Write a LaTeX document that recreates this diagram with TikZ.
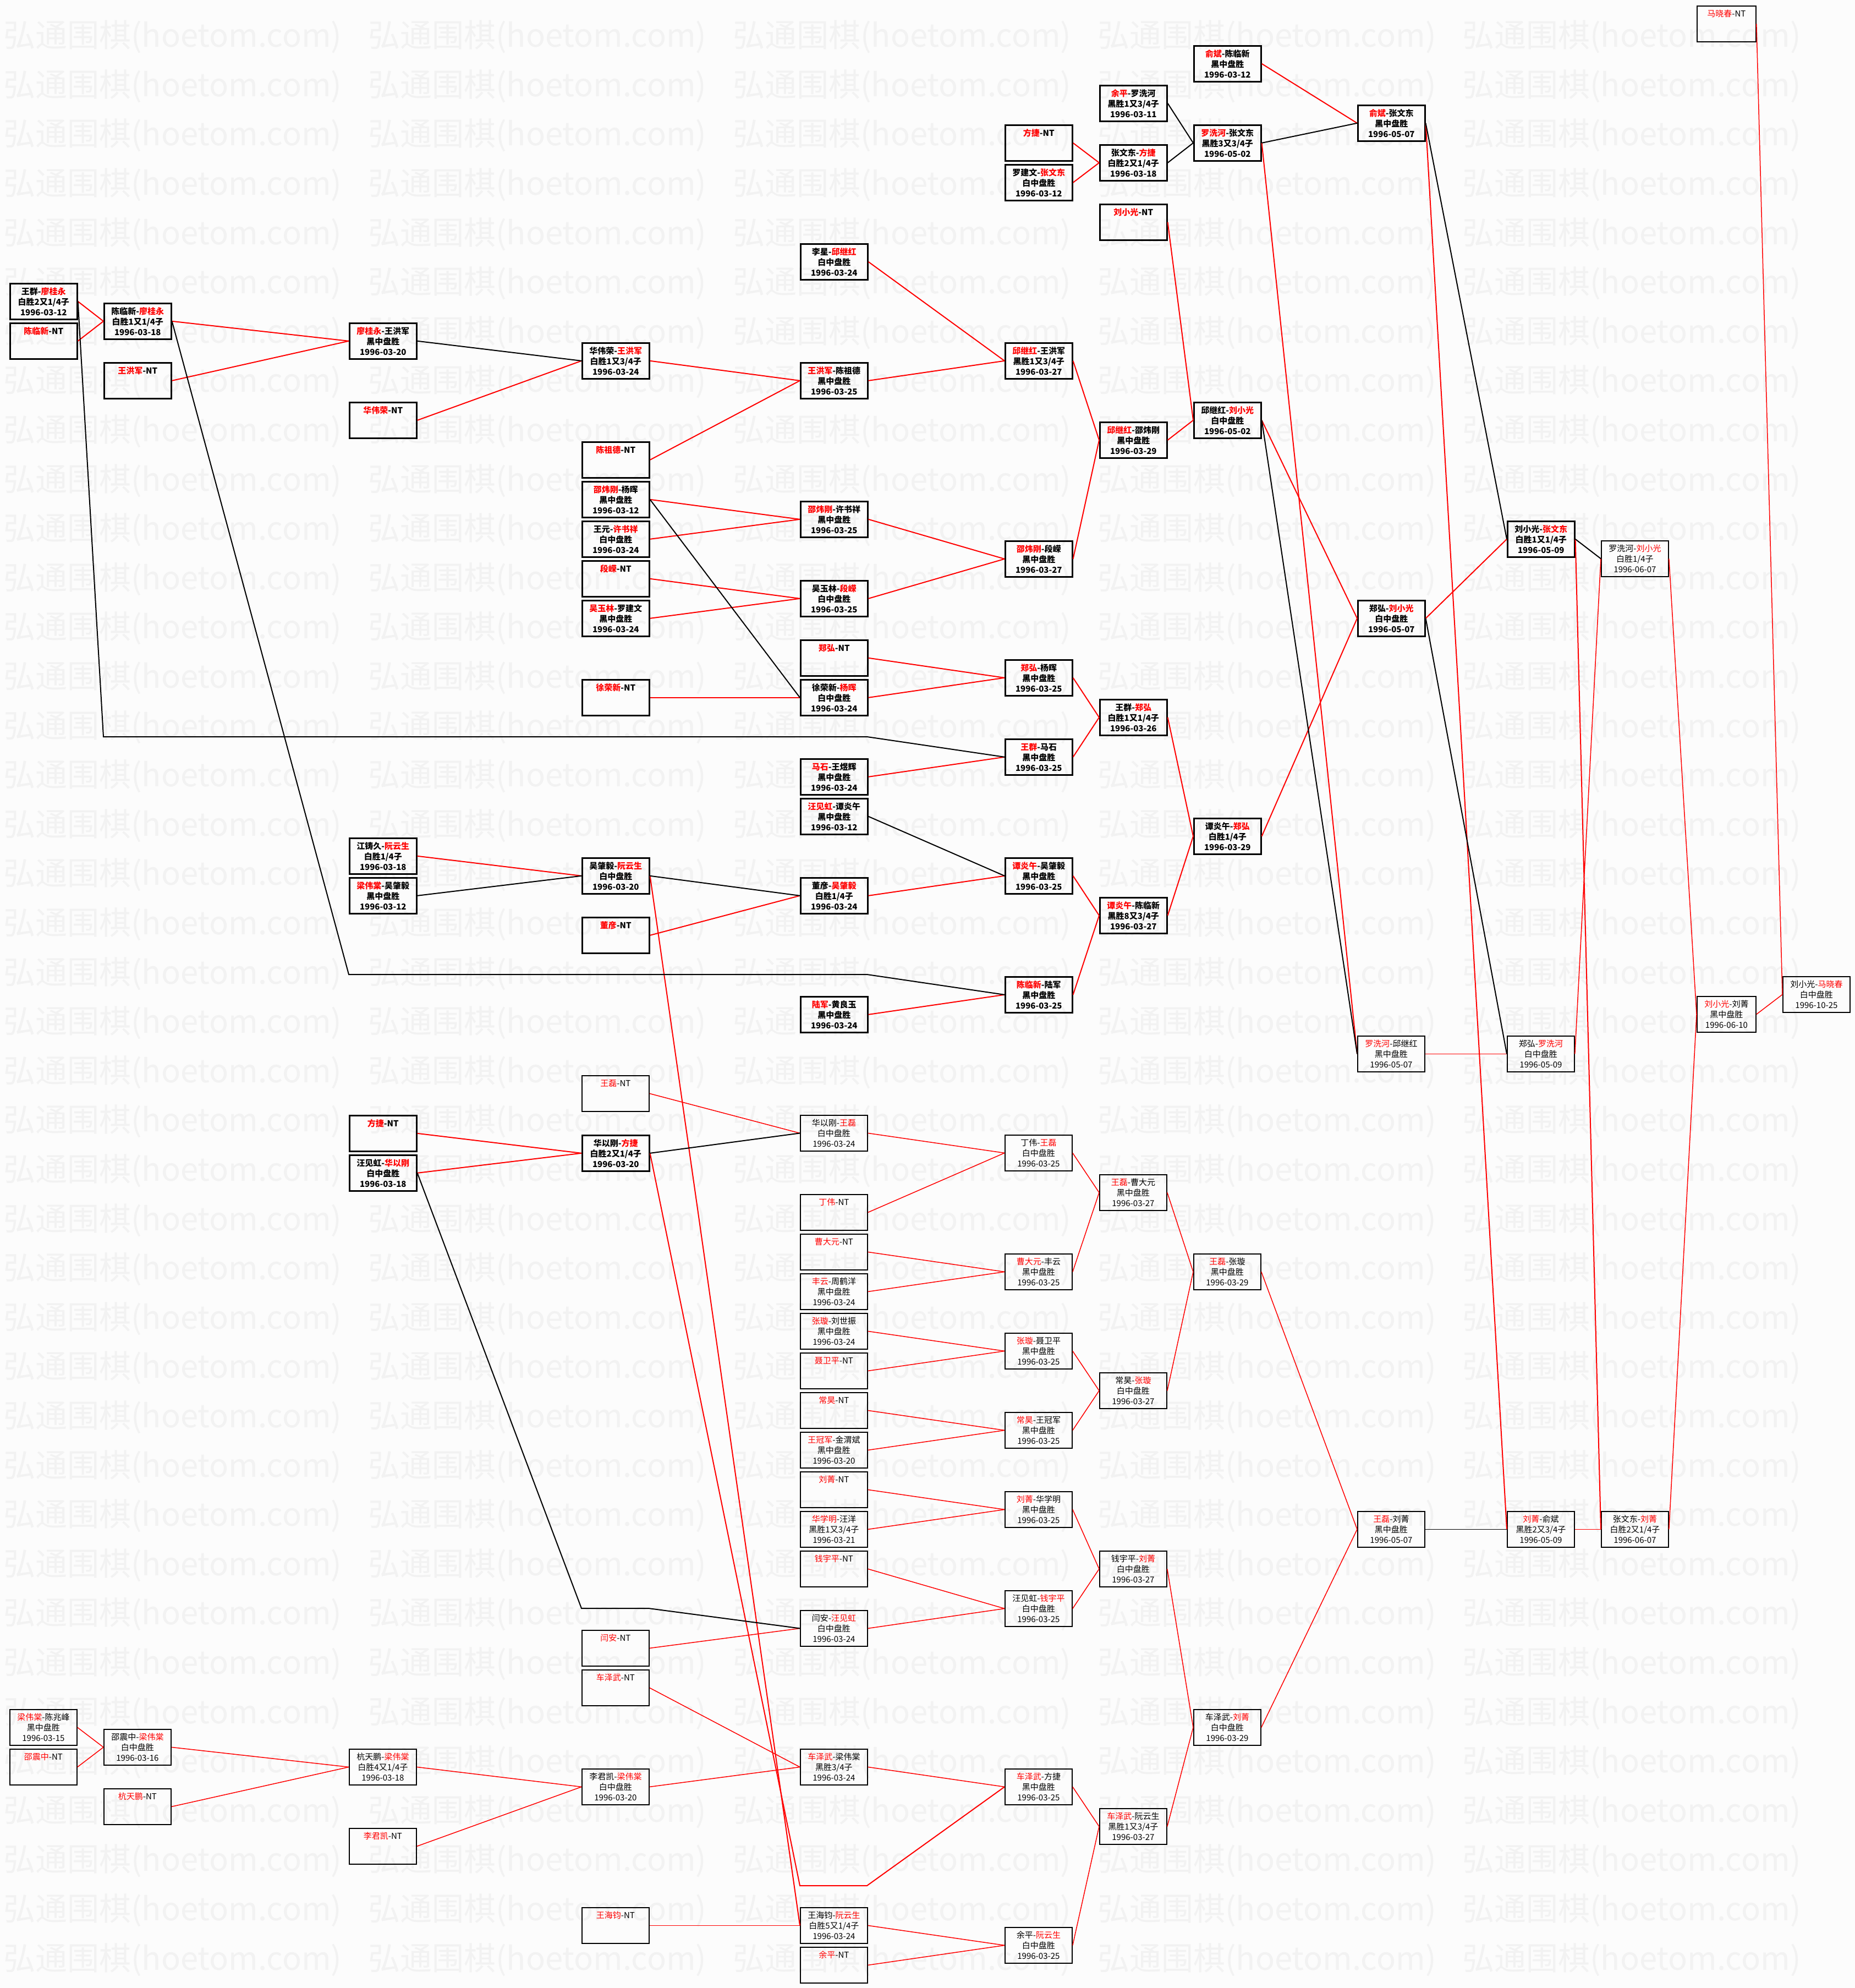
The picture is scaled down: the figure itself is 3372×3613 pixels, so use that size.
\documentclass[tikz,border=0pt]{standalone}
\usepackage{fontspec}
\setmainfont{Noto Sans CJK SC}
\usepackage{xcolor}

\begin{document}
\begin{tikzpicture}[x=1pt, y=-1pt,
        game/.style={draw, line width=2.6pt, anchor=north west, minimum width=122pt,
            minimum height=65pt, inner sep=0pt, align=center,
            font=\fontsize{15}{19}\selectfont\bfseries},
        lite/.style={game, line width=1.8pt, font=\fontsize{15}{19}\selectfont},
        narrow/.style={minimum width=107pt},
        win/.style={red, line width=2pt},
        lose/.style={black, line width=2pt},
        winl/.style={red, line width=1.5pt},
        losel/.style={black, line width=1.5pt},
        wmark/.style={black!5, anchor=west, inner sep=0pt, font=\fontsize{58}{58}\selectfont}]

    \useasboundingbox (0,0) rectangle (3372,3613);
    \fill[black!1] (0,0) rectangle (3372,3613);

    % watermark
    \begin{scope}
        \clip (0,0) rectangle (3372,3613);
        \foreach \r in {0,...,39} {
            \foreach \c in {0,...,4} {
                \node[wmark] (wm-\r-\c) at (6+663*\c, 67+89.6*\r) {弘通围棋(hoetom.com)};
            }
        }
    \end{scope}

    % column 0
    \node[game] (wq_lgy) at (17,514) {王群-{\color{red}廖桂永}\\白胜2又1/4子\\1996-03-12};
    \node[game] (clx_nt) at (17,586) {{\color{red}陈临新}-NT\\~\\~};
    \node[lite] (lwt_czf) at (17,3106) {{\color{red}梁伟棠}-陈兆峰\\黑中盘胜\\1996-03-15};
    \node[lite] (szz_nt) at (17,3178) {{\color{red}邵震中}-NT\\~\\~};

    % column 1
    \node[game] (clx_lgy) at (188,550) {陈临新-{\color{red}廖桂永}\\白胜1又1/4子\\1996-03-18};
    \node[game] (whj_nt) at (188,658) {{\color{red}王洪军}-NT\\~\\~};
    \node[lite] (szz_lwt) at (188,3142) {邵震中-{\color{red}梁伟棠}\\白中盘胜\\1996-03-16};
    \node[lite] (htp_nt) at (188,3250) {{\color{red}杭天鹏}-NT\\~\\~};

    % column 2
    \node[game] (lgy_whj) at (634,586) {{\color{red}廖桂永}-王洪军\\黑中盘胜\\1996-03-20};
    \node[game] (hwr_nt) at (634,730) {{\color{red}华伟荣}-NT\\~\\~};
    \node[game] (jzj_rys) at (634,1522) {江铸久-{\color{red}阮云生}\\白胜1/4子\\1996-03-18};
    \node[game] (lwt_wzy) at (634,1594) {{\color{red}梁伟棠}-吴肇毅\\黑中盘胜\\1996-03-12};
    \node[game] (fj_nt2) at (634,2026) {{\color{red}方捷}-NT\\~\\~};
    \node[game] (wjh_hyg) at (634,2098) {汪见虹-{\color{red}华以刚}\\白中盘胜\\1996-03-18};
    \node[lite] (htp_lwt) at (634,3178) {杭天鹏-{\color{red}梁伟棠}\\白胜4又1/4子\\1996-03-18};
    \node[lite] (ljk_nt) at (634,3322) {{\color{red}李君凯}-NT\\~\\~};

    % column 3
    \node[game] (hwr_whj) at (1057,622) {华伟荣-{\color{red}王洪军}\\白胜1又3/4子\\1996-03-24};
    \node[game] (czd_nt) at (1057,802) {{\color{red}陈祖德}-NT\\~\\~};
    \node[game] (swg_yh) at (1057,874) {{\color{red}邵炜刚}-杨晖\\黑中盘胜\\1996-03-12};
    \node[game] (wy_xsx) at (1057,946) {王元-{\color{red}许书祥}\\白中盘胜\\1996-03-24};
    \node[game] (dr_nt) at (1057,1018) {{\color{red}段嵘}-NT\\~\\~};
    \node[game] (wyl_ljw) at (1057,1090) {{\color{red}吴玉林}-罗建文\\黑中盘胜\\1996-03-24};
    \node[game] (xrx_nt) at (1057,1234) {{\color{red}徐荣新}-NT\\~\\~};
    \node[game] (wzy_rys) at (1057,1558) {吴肇毅-{\color{red}阮云生}\\白中盘胜\\1996-03-20};
    \node[game] (dy_nt) at (1057,1666) {{\color{red}董彦}-NT\\~\\~};
    \node[lite] (wl_nt) at (1057,1954) {{\color{red}王磊}-NT\\~\\~};
    \node[game] (hyg_fj) at (1057,2062) {华以刚-{\color{red}方捷}\\白胜2又1/4子\\1996-03-20};
    \node[lite] (ya_nt) at (1057,2962) {{\color{red}闫安}-NT\\~\\~};
    \node[lite] (czw_nt) at (1057,3034) {{\color{red}车泽武}-NT\\~\\~};
    \node[lite] (ljk_lwt) at (1057,3214) {李君凯-{\color{red}梁伟棠}\\白中盘胜\\1996-03-20};
    \node[lite] (whj_nt2) at (1057,3466) {{\color{red}王海钧}-NT\\~\\~};

    % column 4
    \node[game] (lx_qjh) at (1454,442) {李星-{\color{red}邱继红}\\白中盘胜\\1996-03-24};
    \node[game] (whj_czd) at (1454,658) {{\color{red}王洪军}-陈祖德\\黑中盘胜\\1996-03-25};
    \node[game] (swg_xsx) at (1454,910) {{\color{red}邵炜刚}-许书祥\\黑中盘胜\\1996-03-25};
    \node[game] (wyl_dr) at (1454,1054) {吴玉林-{\color{red}段嵘}\\白中盘胜\\1996-03-25};
    \node[game] (zh_nt) at (1454,1162) {{\color{red}郑弘}-NT\\~\\~};
    \node[game] (xrx_yh) at (1454,1234) {徐荣新-{\color{red}杨晖}\\白中盘胜\\1996-03-24};
    \node[game] (ms_wyh) at (1454,1378) {{\color{red}马石}-王煜辉\\黑中盘胜\\1996-03-24};
    \node[game] (wjh_tyw) at (1454,1450) {{\color{red}汪见虹}-谭炎午\\黑中盘胜\\1996-03-12};
    \node[game] (dy_wzy) at (1454,1594) {董彦-{\color{red}吴肇毅}\\白胜1/4子\\1996-03-24};
    \node[game] (lj_hly) at (1454,1810) {{\color{red}陆军}-黄良玉\\黑中盘胜\\1996-03-24};
    \node[lite] (hyg_wl) at (1454,2026) {华以刚-{\color{red}王磊}\\白中盘胜\\1996-03-24};
    \node[lite] (dw_nt) at (1454,2170) {{\color{red}丁伟}-NT\\~\\~};
    \node[lite] (cdy_nt) at (1454,2242) {{\color{red}曹大元}-NT\\~\\~};
    \node[lite] (fy_zhy) at (1454,2314) {{\color{red}丰云}-周鹤洋\\黑中盘胜\\1996-03-24};
    \node[lite] (zx_lsz) at (1454,2386) {{\color{red}张璇}-刘世振\\黑中盘胜\\1996-03-24};
    \node[lite] (nwp_nt) at (1454,2458) {{\color{red}聂卫平}-NT\\~\\~};
    \node[lite] (ch_nt) at (1454,2530) {{\color{red}常昊}-NT\\~\\~};
    \node[lite] (wgj_jwb) at (1454,2602) {{\color{red}王冠军}-金渭斌\\黑中盘胜\\1996-03-20};
    \node[lite] (lj_nt) at (1454,2674) {{\color{red}刘菁}-NT\\~\\~};
    \node[lite] (hxm_wy) at (1454,2746) {{\color{red}华学明}-汪洋\\黑胜1又3/4子\\1996-03-21};
    \node[lite] (qyp_nt) at (1454,2818) {{\color{red}钱宇平}-NT\\~\\~};
    \node[lite] (ya_wjh) at (1454,2926) {闫安-{\color{red}汪见虹}\\白中盘胜\\1996-03-24};
    \node[lite] (czw_lwt) at (1454,3178) {{\color{red}车泽武}-梁伟棠\\黑胜3/4子\\1996-03-24};
    \node[lite] (whj_rys) at (1454,3466) {王海钧-{\color{red}阮云生}\\白胜5又1/4子\\1996-03-24};
    \node[lite] (yp_nt) at (1454,3538) {{\color{red}余平}-NT\\~\\~};

    % column 5
    \node[game] (fj_nt) at (1826,226) {{\color{red}方捷}-NT\\~\\~};
    \node[game] (ljw_zwd) at (1826,298) {罗建文-{\color{red}张文东}\\白中盘胜\\1996-03-12};
    \node[game] (qjh_whj) at (1826,622) {{\color{red}邱继红}-王洪军\\黑胜1又3/4子\\1996-03-27};
    \node[game] (swg_dr) at (1826,982) {{\color{red}邵炜刚}-段嵘\\黑中盘胜\\1996-03-27};
    \node[game] (zh_yh) at (1826,1198) {{\color{red}郑弘}-杨晖\\黑中盘胜\\1996-03-25};
    \node[game] (wq_ms) at (1826,1342) {{\color{red}王群}-马石\\黑中盘胜\\1996-03-25};
    \node[game] (tyw_wzy) at (1826,1558) {{\color{red}谭炎午}-吴肇毅\\黑中盘胜\\1996-03-25};
    \node[game] (clx_lj) at (1826,1774) {{\color{red}陈临新}-陆军\\黑中盘胜\\1996-03-25};
    \node[lite] (dw_wl) at (1826,2062) {丁伟-{\color{red}王磊}\\白中盘胜\\1996-03-25};
    \node[lite] (cdy_fy) at (1826,2278) {{\color{red}曹大元}-丰云\\黑中盘胜\\1996-03-25};
    \node[lite] (zx_nwp) at (1826,2422) {{\color{red}张璇}-聂卫平\\黑中盘胜\\1996-03-25};
    \node[lite] (ch_wgj) at (1826,2566) {{\color{red}常昊}-王冠军\\黑中盘胜\\1996-03-25};
    \node[lite] (lj_hxm) at (1826,2710) {{\color{red}刘菁}-华学明\\黑中盘胜\\1996-03-25};
    \node[lite] (wjh_qyp) at (1826,2890) {汪见虹-{\color{red}钱宇平}\\白中盘胜\\1996-03-25};
    \node[lite] (czw_fj) at (1826,3214) {{\color{red}车泽武}-方捷\\黑中盘胜\\1996-03-25};
    \node[lite] (yp_rys) at (1826,3502) {余平-{\color{red}阮云生}\\白中盘胜\\1996-03-25};

    % column 6
    \node[game] (yp_lxh) at (1998,154) {{\color{red}余平}-罗洗河\\黑胜1又3/4子\\1996-03-11};
    \node[game] (zwd_fj) at (1998,262) {张文东-{\color{red}方捷}\\白胜2又1/4子\\1996-03-18};
    \node[game] (lxg_nt) at (1998,370) {{\color{red}刘小光}-NT\\~\\~};
    \node[game] (qjh_swg) at (1998,766) {{\color{red}邱继红}-邵炜刚\\黑中盘胜\\1996-03-29};
    \node[game] (wq_zh) at (1998,1270) {王群-{\color{red}郑弘}\\白胜1又1/4子\\1996-03-26};
    \node[game] (tyw_clx) at (1998,1630) {{\color{red}谭炎午}-陈临新\\黑胜8又3/4子\\1996-03-27};
    \node[lite] (wl_cdy) at (1998,2134) {{\color{red}王磊}-曹大元\\黑中盘胜\\1996-03-27};
    \node[lite] (ch_zx) at (1998,2494) {常昊-{\color{red}张璇}\\白中盘胜\\1996-03-27};
    \node[lite] (qyp_lj) at (1998,2818) {钱宇平-{\color{red}刘菁}\\白中盘胜\\1996-03-27};
    \node[lite] (czw_rys) at (1998,3286) {{\color{red}车泽武}-阮云生\\黑胜1又3/4子\\1996-03-27};

    % column 7
    \node[game] (yb_clx) at (2169,82) {{\color{red}俞斌}-陈临新\\黑中盘胜\\1996-03-12};
    \node[game] (lxh_zwd) at (2169,226) {{\color{red}罗洗河}-张文东\\黑胜3又3/4子\\1996-05-02};
    \node[game] (qjh_lxg) at (2169,730) {邱继红-{\color{red}刘小光}\\白中盘胜\\1996-05-02};
    \node[game] (tyw_zh) at (2169,1486) {谭炎午-{\color{red}郑弘}\\白胜1/4子\\1996-03-29};
    \node[lite] (wl_zx) at (2169,2278) {{\color{red}王磊}-张璇\\黑中盘胜\\1996-03-29};
    \node[lite] (czw_lj) at (2169,3106) {车泽武-{\color{red}刘菁}\\白中盘胜\\1996-03-29};

    % columns 8 to 12
    \node[game] (yb_zwd) at (2467,190) {{\color{red}俞斌}-张文东\\黑中盘胜\\1996-05-07};
    \node[game] (zh_lxg) at (2467,1090) {郑弘-{\color{red}刘小光}\\白中盘胜\\1996-05-07};
    \node[lite] (lxh_qjh) at (2467,1882) {{\color{red}罗洗河}-邱继红\\黑中盘胜\\1996-05-07};
    \node[lite] (wl_lj) at (2467,2746) {{\color{red}王磊}-刘菁\\黑中盘胜\\1996-05-07};
    \node[game] (lxg_zwd) at (2739,946) {刘小光-{\color{red}张文东}\\白胜1又1/4子\\1996-05-09};
    \node[lite] (zh_lxh) at (2739,1882) {郑弘-{\color{red}罗洗河}\\白中盘胜\\1996-05-09};
    \node[lite] (lj_yb) at (2739,2746) {{\color{red}刘菁}-俞斌\\黑胜2又3/4子\\1996-05-09};
    \node[lite] (lxh_lxg) at (2910,982) {罗洗河-{\color{red}刘小光}\\白胜1/4子\\1996-06-07};
    \node[lite] (zwd_lj) at (2910,2746) {张文东-{\color{red}刘菁}\\白胜2又1/4子\\1996-06-07};
    \node[lite, narrow] (mxc_nt) at (3084,10) {{\color{red}马晓春}-NT\\~\\~};
    \node[lite, narrow] (lxg_lj) at (3084,1810) {{\color{red}刘小光}-刘菁\\黑中盘胜\\1996-06-10};
    \node[lite] (lxg_mxc) at (3240,1774) {刘小光-{\color{red}马晓春}\\白中盘胜\\1996-10-25};

    % bends of the long connectors
    \coordinate (wq_a) at (188,1339);
    \coordinate (wq_b) at (1576,1339);
    \coordinate (clx_a) at (634,1771);
    \coordinate (clx_b) at (1576,1771);
    \coordinate (wjh_a) at (1057,2923);
    \coordinate (wjh_b) at (1179,2923);
    \coordinate (fj_a) at (1454,3427);
    \coordinate (fj_b) at (1576,3427);

    % winners
    \foreach \a/\b in {wq_lgy/clx_lgy, clx_nt/clx_lgy, clx_lgy/lgy_whj, whj_nt/lgy_whj,
            hwr_nt/hwr_whj, hwr_whj/whj_czd, czd_nt/whj_czd, whj_czd/qjh_whj, lx_qjh/qjh_whj,
            qjh_whj/qjh_swg, swg_yh/swg_xsx, wy_xsx/swg_xsx, swg_xsx/swg_dr, dr_nt/wyl_dr,
            wyl_ljw/wyl_dr, wyl_dr/swg_dr, swg_dr/qjh_swg, qjh_swg/qjh_lxg, lxg_nt/qjh_lxg,
            zh_nt/zh_yh, xrx_nt/xrx_yh, xrx_yh/zh_yh, zh_yh/wq_zh, wq_ms/wq_zh, ms_wyh/wq_ms,
            wq_zh/tyw_zh, tyw_clx/tyw_zh, tyw_wzy/tyw_clx, clx_lj/tyw_clx, lj_hly/clx_lj,
            dy_nt/dy_wzy, dy_wzy/tyw_wzy, jzj_rys/wzy_rys, fj_nt/zwd_fj, ljw_zwd/zwd_fj,
            yb_clx/yb_zwd, qjh_lxg/zh_lxg, tyw_zh/zh_lxg, zh_lxg/lxg_zwd, fj_nt2/hyg_fj,
            wjh_hyg/hyg_fj, wzy_rys/whj_rys, lxh_zwd/lxh_qjh, yb_zwd/lj_yb, lxg_zwd/zwd_lj}
        \draw[win] (\a.east) -- (\b.west);
    \foreach \a/\b in {lxh_qjh/zh_lxh, zh_lxh/lxh_lxg, lxh_lxg/lxg_lj, lxg_lj/lxg_mxc,
            mxc_nt/lxg_mxc, zwd_lj/lxg_lj, lj_yb/zwd_lj, wl_zx/wl_lj, czw_lj/wl_lj,
            wl_nt/hyg_wl, hyg_wl/dw_wl, dw_nt/dw_wl, dw_wl/wl_cdy, cdy_fy/wl_cdy,
            cdy_nt/cdy_fy, fy_zhy/cdy_fy, wl_cdy/wl_zx, ch_zx/wl_zx, zx_lsz/zx_nwp,
            nwp_nt/zx_nwp, zx_nwp/ch_zx, ch_wgj/ch_zx, ch_nt/ch_wgj, wgj_jwb/ch_wgj,
            lj_nt/lj_hxm, hxm_wy/lj_hxm, lj_hxm/qyp_lj, wjh_qyp/qyp_lj, qyp_nt/wjh_qyp,
            ya_wjh/wjh_qyp, ya_nt/ya_wjh, qyp_lj/czw_lj, czw_rys/czw_lj, czw_nt/czw_lwt,
            ljk_lwt/czw_lwt, czw_lwt/czw_fj, czw_fj/czw_rys, yp_rys/czw_rys,
            whj_nt2/whj_rys, whj_rys/yp_rys, yp_nt/yp_rys, lwt_czf/szz_lwt,
            szz_nt/szz_lwt, szz_lwt/htp_lwt, htp_nt/htp_lwt, htp_lwt/ljk_lwt, ljk_nt/ljk_lwt}
        \draw[winl] (\a.east) -- (\b.west);
    \draw[win] (hyg_fj.east) -- (fj_a) -- (fj_b) -- (czw_fj.west);

    % losers
    \foreach \a/\b in {lgy_whj/hwr_whj, swg_yh/xrx_yh, wjh_tyw/tyw_wzy, wzy_rys/dy_wzy,
            lwt_wzy/wzy_rys, yp_lxh/lxh_zwd, zwd_fj/lxh_zwd, lxh_zwd/yb_zwd, yb_zwd/lxg_zwd,
            lxg_zwd/lxh_lxg, zh_lxg/zh_lxh, qjh_lxg/lxh_qjh, hyg_fj/hyg_wl}
        \draw[lose] (\a.east) -- (\b.west);
    \draw[losel] (wl_lj.east) -- (lj_yb.west);
    \draw[lose] (wq_lgy.east) -- (wq_a) -- (wq_b) -- (wq_ms.west);
    \draw[lose] (clx_lgy.east) -- (clx_a) -- (clx_b) -- (clx_lj.west);
    \draw[lose] (wjh_hyg.east) -- (wjh_a) -- (wjh_b) -- (ya_wjh.west);
\end{tikzpicture}
\end{document}
